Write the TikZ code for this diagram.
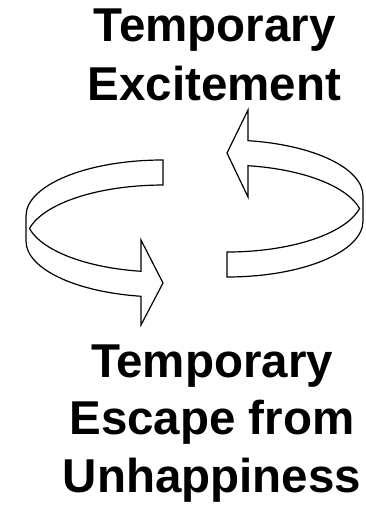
\documentclass[tikz,border=0pt]{standalone}
\usepackage{fontspec}
\setmainfont{Liberation Sans}
\begin{document}
\begin{tikzpicture}[x=1pt,y=1pt,
  band/.style={draw=black,line width=1.2pt,line join=miter,fill=white},
  label/.style={font=\bfseries\fontsize{47.5}{59}\selectfont,align=center,inner sep=0pt,anchor=north}]
\useasboundingbox[fill=white] (0,0) rectangle (365,506);
% left arrow (back tail at top, head at front pointing right)
\draw[band] (163,346)
  arc[start angle=90,end angle=180,x radius=137pt,y radius=56pt]
  -- (26,265)
  arc[start angle=180,end angle=260.76,x radius=137pt,y radius=56pt]
  -- (141,181) -- (163,223) -- (141,266) -- (141,234.7)
  arc[start angle=260.76,end angle=192.9,x radius=137pt,y radius=56pt]
  arc[start angle=167.1,end angle=90,x radius=137pt,y radius=56pt]
  -- cycle;
% right arrow (head at back pointing left, tail at front)
\draw[band] (227,229)
  arc[start angle=270,end angle=360,x radius=136pt,y radius=56pt]
  -- (363,310)
  arc[start angle=0,end angle=81.12,x radius=136pt,y radius=56pt]
  -- (248,396) -- (227,353) -- (248,309) -- (248,340.3)
  arc[start angle=81.12,end angle=12.9,x radius=136pt,y radius=56pt]
  arc[start angle=-12.9,end angle=-90,x radius=136pt,y radius=56pt]
  -- cycle;
\node[label] (top) at (214.5,497) {Temporary\\Excitement};
\node[label,font=\bfseries\fontsize{47.5}{57.5}\selectfont] (bottom) at (212,161.5) {Temporary\\Escape from\\Unhappiness};
\end{tikzpicture}
\end{document}
